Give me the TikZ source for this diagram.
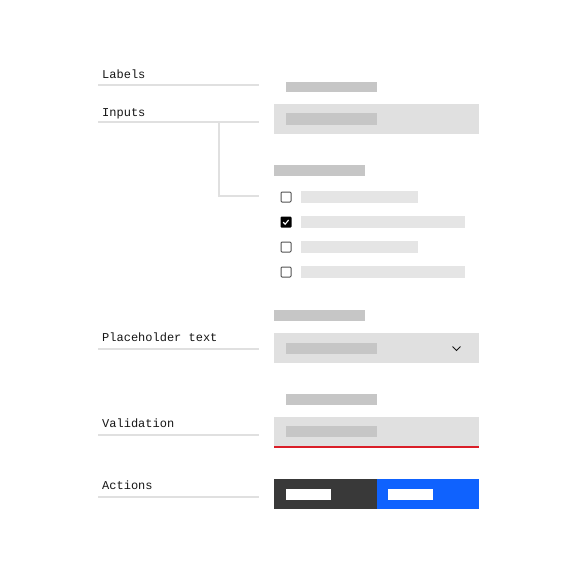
\documentclass[tikz,border=0pt]{standalone}
\usepackage{fontspec}
\setmonofont{Liberation Mono}
\definecolor{txt}{HTML}{161616}
\definecolor{barg}{HTML}{C6C6C6}
\definecolor{fieldg}{HTML}{E0E0E0}
\definecolor{lightg}{HTML}{E5E5E5}
\definecolor{lineg}{HTML}{E0E0E0}
\definecolor{darkbtn}{HTML}{393939}
\definecolor{bluebtn}{HTML}{0F62FE}
\definecolor{redline}{HTML}{DA1E28}
\definecolor{boxg}{HTML}{525252}
\tikzset{
  lbl/.style={anchor=base west, inner sep=0pt, text=txt, font=\ttfamily\fontsize{12}{14}\selectfont},
  uline/.style={draw=lineg, line width=2pt},
  bar/.style={fill=barg},
  field/.style={fill=fieldg},
  lbar/.style={fill=lightg},
  cbox/.style={draw=boxg, line width=1pt, fill=white, rounded corners=1pt},
}
\begin{document}
\begin{tikzpicture}[x=1pt,y=-1pt]
\useasboundingbox[fill=white] (0,0) rectangle (576,576);
% left labels
\node[lbl] (labels) at (102,78) {Labels};
\draw[uline] (98,85) -- (259,85);
\node[lbl] (inputs) at (102,116) {Inputs};
\draw[uline] (98,122) -- (259,122);
\coordinate (cA) at (219,122);
\coordinate (cB) at (259,196);
\draw[uline] (cA) |- (cB);
\node[lbl] (ph) at (102,341) {Placeholder text};
\draw[uline] (98,349) -- (259,349);
\node[lbl] (val) at (102,427) {Validation};
\draw[uline] (98,435) -- (259,435);
\node[lbl] (act) at (102,489) {Actions};
\draw[uline] (98,497) -- (259,497);
% labels row
\fill[bar] (286,82) rectangle (377,92);
% input
\fill[field] (274,104) rectangle (479,134);
\fill[bar] (286,113) rectangle (377,125);
% checkbox group
\fill[bar] (274,165) rectangle (365,176);
\foreach \y/\w/\c in {197/418/0,222/465/1,247/418/0,272/465/0}{
  \ifnum\c=1
    \fill[black, rounded corners=1pt] (280.5,\y-5.5) rectangle (291.5,\y+5.5);
    \draw[white, line width=1.1pt] (283.2,\y+0.2) -- (285.2,\y+2.2) -- (288.6,\y-2);
  \else
    \draw[cbox] (281,\y-5) rectangle (291,\y+5);
  \fi
  \fill[lbar] (301,\y-6) rectangle (\w,\y+6);
}
% placeholder / dropdown
\fill[bar] (274,310) rectangle (365,321);
\fill[field] (274,333) rectangle (479,363);
\fill[bar] (286,343) rectangle (377,354);
\draw[txt, line width=1pt] (452.5,346.5) -- (456.5,350.5) -- (460.5,346.5);
% validation
\fill[bar] (286,394) rectangle (377,405);
\fill[field] (274,417) rectangle (479,448);
\fill[bar] (286,426) rectangle (377,437);
\draw[redline, line width=2pt] (274,447) -- (479,447);
% actions
\fill[darkbtn] (274,479) rectangle (377,509);
\fill[bluebtn] (377,479) rectangle (479,509);
\fill[white] (286,489) rectangle (331,500);
\fill[white] (388,489) rectangle (433,500);
\end{tikzpicture}
\end{document}
